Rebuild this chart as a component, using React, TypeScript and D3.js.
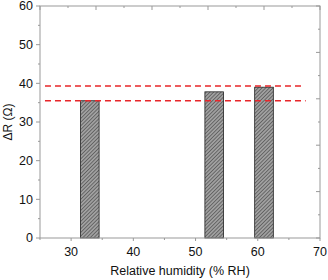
import React from "react";
import * as d3 from "d3";

// bar centres (% RH) and heights (ohm)
const humidity = [33, 53, 61];
const deltaR = [35.5, 37.8, 39.0];
const barWidth = 3;

// red dashed reference lines
const refLines = [
  { y: 39.3, x0: 25.8, x1: 67.0 },
  { y: 35.5, x0: 25.8, x1: 67.7 },
];

const xTicks = [30, 40, 50, 60, 70];
const xMinor = [25, 35, 45, 55, 65];
const yTicks = [0, 10, 20, 30, 40, 50, 60];
const yMinor = [5, 15, 25, 35, 45, 55];

const W = 328;
const H = 280;
const m = { top: 6, right: 8, bottom: 42, left: 40 };
const axisColor = "#999";
const font = "Arial, 'Liberation Sans', sans-serif";

const App = () => {
  const x = d3.scaleLinear().domain([25, 70]).range([m.left, W - m.right]);
  const y = d3.scaleLinear().domain([0, 60]).range([H - m.bottom, m.top]);
  // top and right axes carry their own unlabeled ticks
  const xt = d3.scaleLinear().domain([0, 5]).range([m.left, W - m.right]);
  const yr = d3.scaleLinear().domain([0, 5]).range([H - m.bottom, m.top]);
  const halfSteps = d3.range(0, 5.01, 0.5);

  const x0 = m.left;
  const x1 = W - m.right;
  const y0 = H - m.bottom;
  const y1 = m.top;

  return (
    <svg width={W} height={H} style={{ position: "absolute", left: 0, top: 0 }}>
      <defs>
        <pattern id="hatch" width="2.6" height="2.6" patternUnits="userSpaceOnUse" patternTransform="rotate(45)">
          <rect width="2.6" height="2.6" fill="#a0a0a0" />
          <line x1="0" y1="0" x2="0" y2="2.6" stroke="#3a3a3a" strokeWidth="1.1" />
        </pattern>
      </defs>

      {humidity.map((h, i) => (
        <rect
          key={i}
          x={x(h - barWidth / 2)}
          y={y(deltaR[i])}
          width={x(h + barWidth / 2) - x(h - barWidth / 2)}
          height={y0 - y(deltaR[i])}
          fill="url(#hatch)"
          stroke="#222"
          strokeWidth={0.8}
        />
      ))}

      {refLines.map((r, i) => (
        <line
          key={i}
          x1={x(r.x0)}
          x2={x(r.x1)}
          y1={y(r.y)}
          y2={y(r.y)}
          stroke="#e8262a"
          strokeWidth={1.5}
          strokeDasharray="6,4"
        />
      ))}

      {/* frame */}
      <rect x={x0} y={y1} width={x1 - x0} height={y0 - y1} fill="none" stroke={axisColor} strokeWidth={1} />

      {/* bottom ticks, outward */}
      {xTicks.map(t => (
        <line key={"xb" + t} x1={x(t)} x2={x(t)} y1={y0} y2={y0 + 3} stroke={axisColor} />
      ))}
      {xMinor.map(t => (
        <line key={"xm" + t} x1={x(t)} x2={x(t)} y1={y0} y2={y0 + 2} stroke={axisColor} />
      ))}
      {/* left ticks, outward */}
      {yTicks.map(t => (
        <line key={"yl" + t} x1={x0 - 4} x2={x0} y1={y(t)} y2={y(t)} stroke={axisColor} />
      ))}
      {yMinor.map(t => (
        <line key={"ym" + t} x1={x0 - 2} x2={x0} y1={y(t)} y2={y(t)} stroke={axisColor} />
      ))}
      {/* top and right ticks, inward */}
      {halfSteps.map(t => (
        <line key={"xt" + t} x1={xt(t)} x2={xt(t)} y1={y1} y2={y1 + (t % 1 === 0 ? 4 : 2)} stroke={axisColor} />
      ))}
      {halfSteps.map(t => (
        <line key={"yr" + t} x1={x1} x2={x1 - (t % 1 === 0 ? 4 : 2)} y1={yr(t)} y2={yr(t)} stroke={axisColor} />
      ))}

      {/* tick labels */}
      {xTicks.map(t => (
        <text key={"xl" + t} x={x(t)} y={y0 + 18} textAnchor="middle" fontFamily={font} fontSize={12.5} fill="#111">
          {t}
        </text>
      ))}
      {yTicks.map(t => (
        <text key={"yt" + t} x={x0 - 7} y={y(t) + 4.4} textAnchor="end" fontFamily={font} fontSize={12.5} fill="#111">
          {t}
        </text>
      ))}

      <text x={(x0 + x1) / 2} y={H - 5} textAnchor="middle" fontFamily={font} fontSize={12.5} fill="#111">
        Relative humidity (% RH)
      </text>
      <text
        transform={`translate(${12}, ${(y0 + y1) / 2}) rotate(-90)`}
        textAnchor="middle"
        fontFamily={font}
        fontSize={12}
        fill="#111"
      >
        ΔR (Ω)
      </text>
    </svg>
  );
};

export default App;
